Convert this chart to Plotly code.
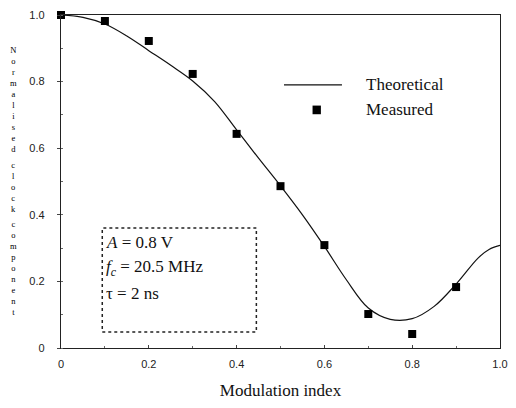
import plotly.graph_objects as go

# Theoretical clock component vs. modulation index
theory_m = [0.0, 0.05, 0.1, 0.15, 0.2, 0.25, 0.3, 0.35, 0.4, 0.45, 0.5,
            0.55, 0.6, 0.65, 0.7, 0.75, 0.8, 0.85, 0.9, 0.95, 0.975, 1.0]
theory_val = [1.0, 0.993, 0.973, 0.937, 0.893, 0.849, 0.802, 0.740, 0.655, 0.57, 0.487,
              0.40, 0.305, 0.205, 0.12, 0.086, 0.088, 0.125, 0.192, 0.27, 0.296, 0.308]

# Measured points
meas_m = [0.0, 0.1, 0.2, 0.3, 0.4, 0.5, 0.6, 0.7, 0.8, 0.9]
meas_val = [1.0, 0.982, 0.922, 0.823, 0.643, 0.486, 0.309, 0.102, 0.042, 0.183]

tick_vals = [0, 0.2, 0.4, 0.6, 0.8, 1.0]
tick_text = ["0", "0.2", "0.4", "0.6", "0.8", "1.0"]

y_title_words = ["Normalised", "clock", "component"]
serif = "Liberation Serif, Times New Roman, serif"
sans = "Liberation Sans, Arial, sans-serif"

fig = go.Figure()
fig.add_trace(go.Scatter(x=theory_m, y=theory_val, mode="lines",
                         line=dict(color="#111", width=1.2, shape="spline", smoothing=1.0),
                         showlegend=False, cliponaxis=False))
fig.add_trace(go.Scatter(x=meas_m, y=meas_val, mode="markers",
                         marker=dict(symbol="square", size=8, color="#000"),
                         showlegend=False, cliponaxis=False))

axis_common = dict(showgrid=False, zeroline=False, showline=True, mirror=True,
                   linecolor="#222", linewidth=1.3,
                   tickvals=tick_vals, ticktext=tick_text,
                   tickfont=dict(family=sans, size=11, color="#222"),
                   ticklen=3, tickcolor="#444",
                   minor=dict(dtick=0.1, ticklen=2, tickcolor="#666", ticks="inside"))

fig.update_xaxes(range=[0, 1.0], ticks="inside", ticklabelstandoff=6,
                 title=dict(text="Modulation index", font=dict(family=serif, size=17, color="#111"),
                            standoff=14),
                 **axis_common)
fig.update_yaxes(range=[0, 1.0], ticks="outside", ticklabelstandoff=10, **axis_common)

annotations = []
# Vertical, letter-stacked axis title: one column per word
fsize = 8.5
line_px = fsize * 1.3
gap_px = 4
plot_h, t_m = 333, 15
top_px = 44
for word in y_title_words:
    h = len(word) * line_px
    annotations.append(dict(text="<br>".join(word), xref="paper", yref="paper",
                            x=-0.108, y=1 - (top_px - t_m) / plot_h, showarrow=False,
                            xanchor="center", yanchor="top", align="center", borderpad=0,
                            font=dict(family=serif, size=fsize, color="#000")))
    top_px += h + gap_px

# Parameter box text
params = ["<i>A</i> = 0.8 V", "<i>f<sub>c</sub></i> = 20.5 MHz", "τ = 2 ns"]
for txt, yv in zip(params, [0.318, 0.24, 0.165]):
    annotations.append(dict(text=txt, x=0.097, y=yv, xref="x", yref="y", showarrow=False,
                            xanchor="left", yanchor="middle",
                            font=dict(family=serif, size=17, color="#111")))

# Legend text
for txt, yv in zip(["Theoretical", "Measured"], [0.79, 0.715]):
    annotations.append(dict(text=txt, x=0.69, y=yv, xref="x", yref="y", showarrow=False,
                            xanchor="left", yanchor="middle",
                            font=dict(family=serif, size=17, color="#111")))

shapes = [
    dict(type="rect", xref="x", yref="y", x0=0.094, x1=0.445, y0=0.048, y1=0.36,
         line=dict(color="#222", width=1.5, dash="dot")),
    dict(type="line", xref="x", yref="y", x0=0.508, x1=0.64, y0=0.79, y1=0.79,
         line=dict(color="#111", width=1.3)),
    dict(type="rect", xref="x", yref="y", x0=0.573, x1=0.592, y0=0.702, y1=0.728,
         fillcolor="#000", line=dict(width=0)),
]

fig.update_layout(width=516, height=408, margin=dict(l=61, r=8, t=15, b=60),
                  paper_bgcolor="white", plot_bgcolor="white",
                  annotations=annotations, shapes=shapes)

fig.write_html("out.html")
